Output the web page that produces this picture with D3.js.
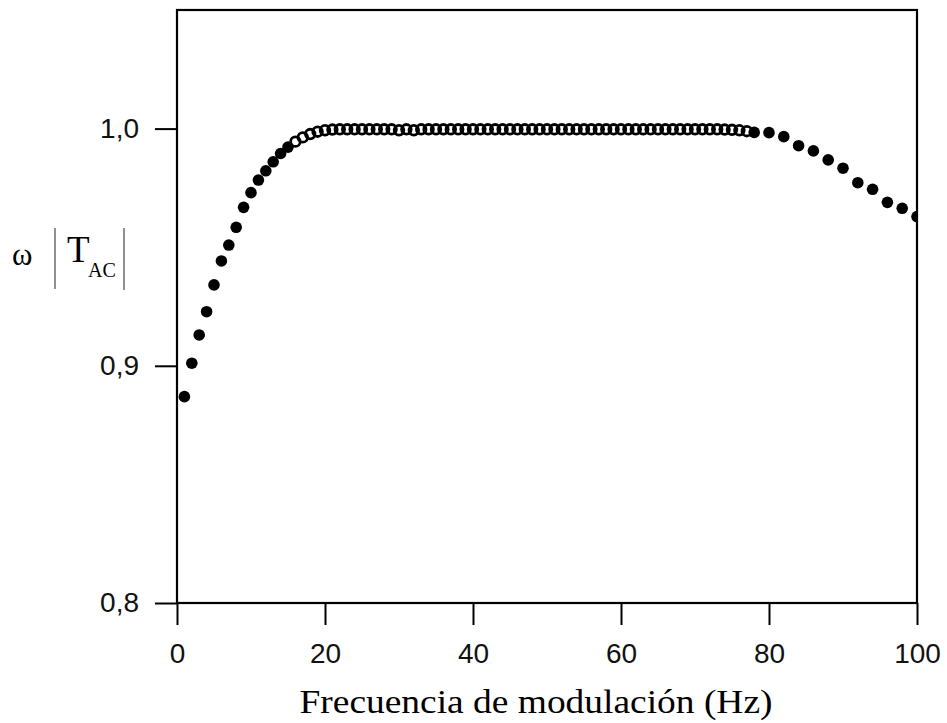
<!DOCTYPE html>
<html>
<head>
<meta charset="utf-8">
<script src="https://cdn.jsdelivr.net/npm/d3@7"></script>
<style>
  html, body { margin: 0; padding: 0; background: #fff; }
  svg { display: block; }
</style>
</head>
<body>
<svg id="chart" width="947" height="723"></svg>
<script>
// ---- data ----
const freqFilled = [1, 2, 3, 4, 5, 6, 7, 8, 9, 10, 11, 12, 13, 14, 15,
                    78, 80, 82, 84, 86, 88, 90, 92, 94, 96, 98, 100];
const tacFilled  = [0.8870, 0.9011, 0.9130, 0.9228, 0.9341, 0.9442, 0.9509, 0.9584, 0.9668, 0.9730,
                    0.9783, 0.9822, 0.9860, 0.9895, 0.9922,
                    0.9984, 0.9983, 0.9966, 0.9928, 0.9906, 0.9868, 0.9833, 0.9772, 0.9744, 0.9689, 0.9664, 0.9629];
const freqDense  = [16, 17, 18, 19, 20, 21, 22, 23, 24, 25, 26, 27, 28, 29, 30, 31, 32, 33, 34, 35,
                    36, 37, 38, 39, 40, 41, 42, 43, 44, 45, 46, 47, 48, 49, 50, 51, 52, 53, 54, 55,
                    56, 57, 58, 59, 60, 61, 62, 63, 64, 65, 66, 67, 68, 69, 70, 71, 72, 73, 74, 75, 76, 77];
const tacDense   = [0.9945, 0.9963, 0.9977, 0.9987, 0.9993, 0.9996, 0.9997, 0.9997, 0.9997, 0.9997,
                    0.9997, 0.9997, 0.9997, 0.9997, 0.9993, 0.9997, 0.9993, 0.9997, 0.9997, 0.9997,
                    0.9997, 0.9997, 0.9997, 0.9997, 0.9997, 0.9997, 0.9997, 0.9997, 0.9997, 0.9997,
                    0.9997, 0.9997, 0.9997, 0.9997, 0.9997, 0.9997, 0.9997, 0.9997, 0.9997, 0.9997,
                    0.9997, 0.9997, 0.9997, 0.9997, 0.9997, 0.9997, 0.9997, 0.9997, 0.9997, 0.9997,
                    0.9997, 0.9997, 0.9997, 0.9997, 0.9997, 0.9997, 0.9997, 0.9997, 0.9996, 0.9995,
                    0.9993, 0.9989];
const xTicks = [0, 20, 40, 60, 80, 100];
const yTicks = [0.8, 0.9, 1.0];
const xLabel = "Frecuencia de modulación (Hz)";

// ---- layout ----
const svg = d3.select("#chart");
const L = 177, R = 917, T = 10, B = 603;
const x = d3.scaleLinear().domain([0, 100]).range([L, R]);
const y = d3.scaleLinear().domain([0.8, 1.05]).range([B, T]);
const locale = d3.formatLocale({decimal: ",", thousands: ".", grouping: [3], currency: ["", "€"]});
const fmtY = locale.format(".1f");

svg.append("defs").append("clipPath").attr("id", "plotclip")
  .append("rect").attr("x", L).attr("y", T).attr("width", R - L).attr("height", B - T);

// axes
const gx = svg.append("g").attr("transform", `translate(0,${B})`)
  .call(d3.axisBottom(x).tickValues(xTicks).tickSize(22).tickPadding(18).tickFormat(d3.format("d")));
const gy = svg.append("g").attr("transform", `translate(${L},0)`)
  .call(d3.axisLeft(y).tickValues(yTicks).tickSize(22).tickPadding(16).tickFormat(fmtY));
[gx, gy].forEach(g => {
  g.select(".domain").remove();
  g.selectAll(".tick line").attr("stroke", "#000").attr("stroke-width", 2);
  g.selectAll(".tick text").attr("fill", "#111")
    .style("font-family", "'Liberation Sans', Arial, sans-serif").style("font-size", "28px");
});

// frame
svg.append("rect").attr("x", L).attr("y", T).attr("width", R - L).attr("height", B - T)
  .attr("fill", "none").attr("stroke", "#000").attr("stroke-width", 2.2);

// data
const plot = svg.append("g").attr("clip-path", "url(#plotclip)");
plot.selectAll("circle.dense").data(d3.zip(freqDense, tacDense)).join("circle")
  .attr("class", "dense")
  .attr("cx", d => x(d[0])).attr("cy", d => y(d[1])).attr("r", 4.8)
  .attr("fill", "none").attr("stroke", "#000").attr("stroke-width", 2.8);
plot.selectAll("circle.filled").data(d3.zip(freqFilled, tacFilled)).join("circle")
  .attr("class", "filled")
  .attr("cx", d => x(d[0])).attr("cy", d => y(d[1])).attr("r", 5.8)
  .attr("fill", "#000");

// x label
svg.append("text").attr("x", 536).attr("y", 713).attr("text-anchor", "middle")
  .attr("textLength", 473).attr("lengthAdjust", "spacingAndGlyphs")
  .style("font-family", "'Liberation Serif', 'Times New Roman', serif").style("font-size", "34px")
  .attr("fill", "#000").text(xLabel);

// y label: ω |T_AC|
const yl = svg.append("g").style("font-family", "'Liberation Serif', 'Times New Roman', serif").attr("fill", "#000");
yl.append("text").attr("x", 12).attr("y", 265).style("font-size", "31px").text("ω");
yl.append("line").attr("x1", 55).attr("x2", 55).attr("y1", 228).attr("y2", 289).attr("stroke", "#555").attr("stroke-width", 1.3);
yl.append("line").attr("x1", 124).attr("x2", 124).attr("y1", 228).attr("y2", 290).attr("stroke", "#555").attr("stroke-width", 1.3);
yl.append("text").attr("x", 67).attr("y", 262).style("font-size", "37px").text("T");
yl.append("text").attr("x", 88).attr("y", 277).style("font-size", "20px").text("AC");
</script>
</body>
</html>
